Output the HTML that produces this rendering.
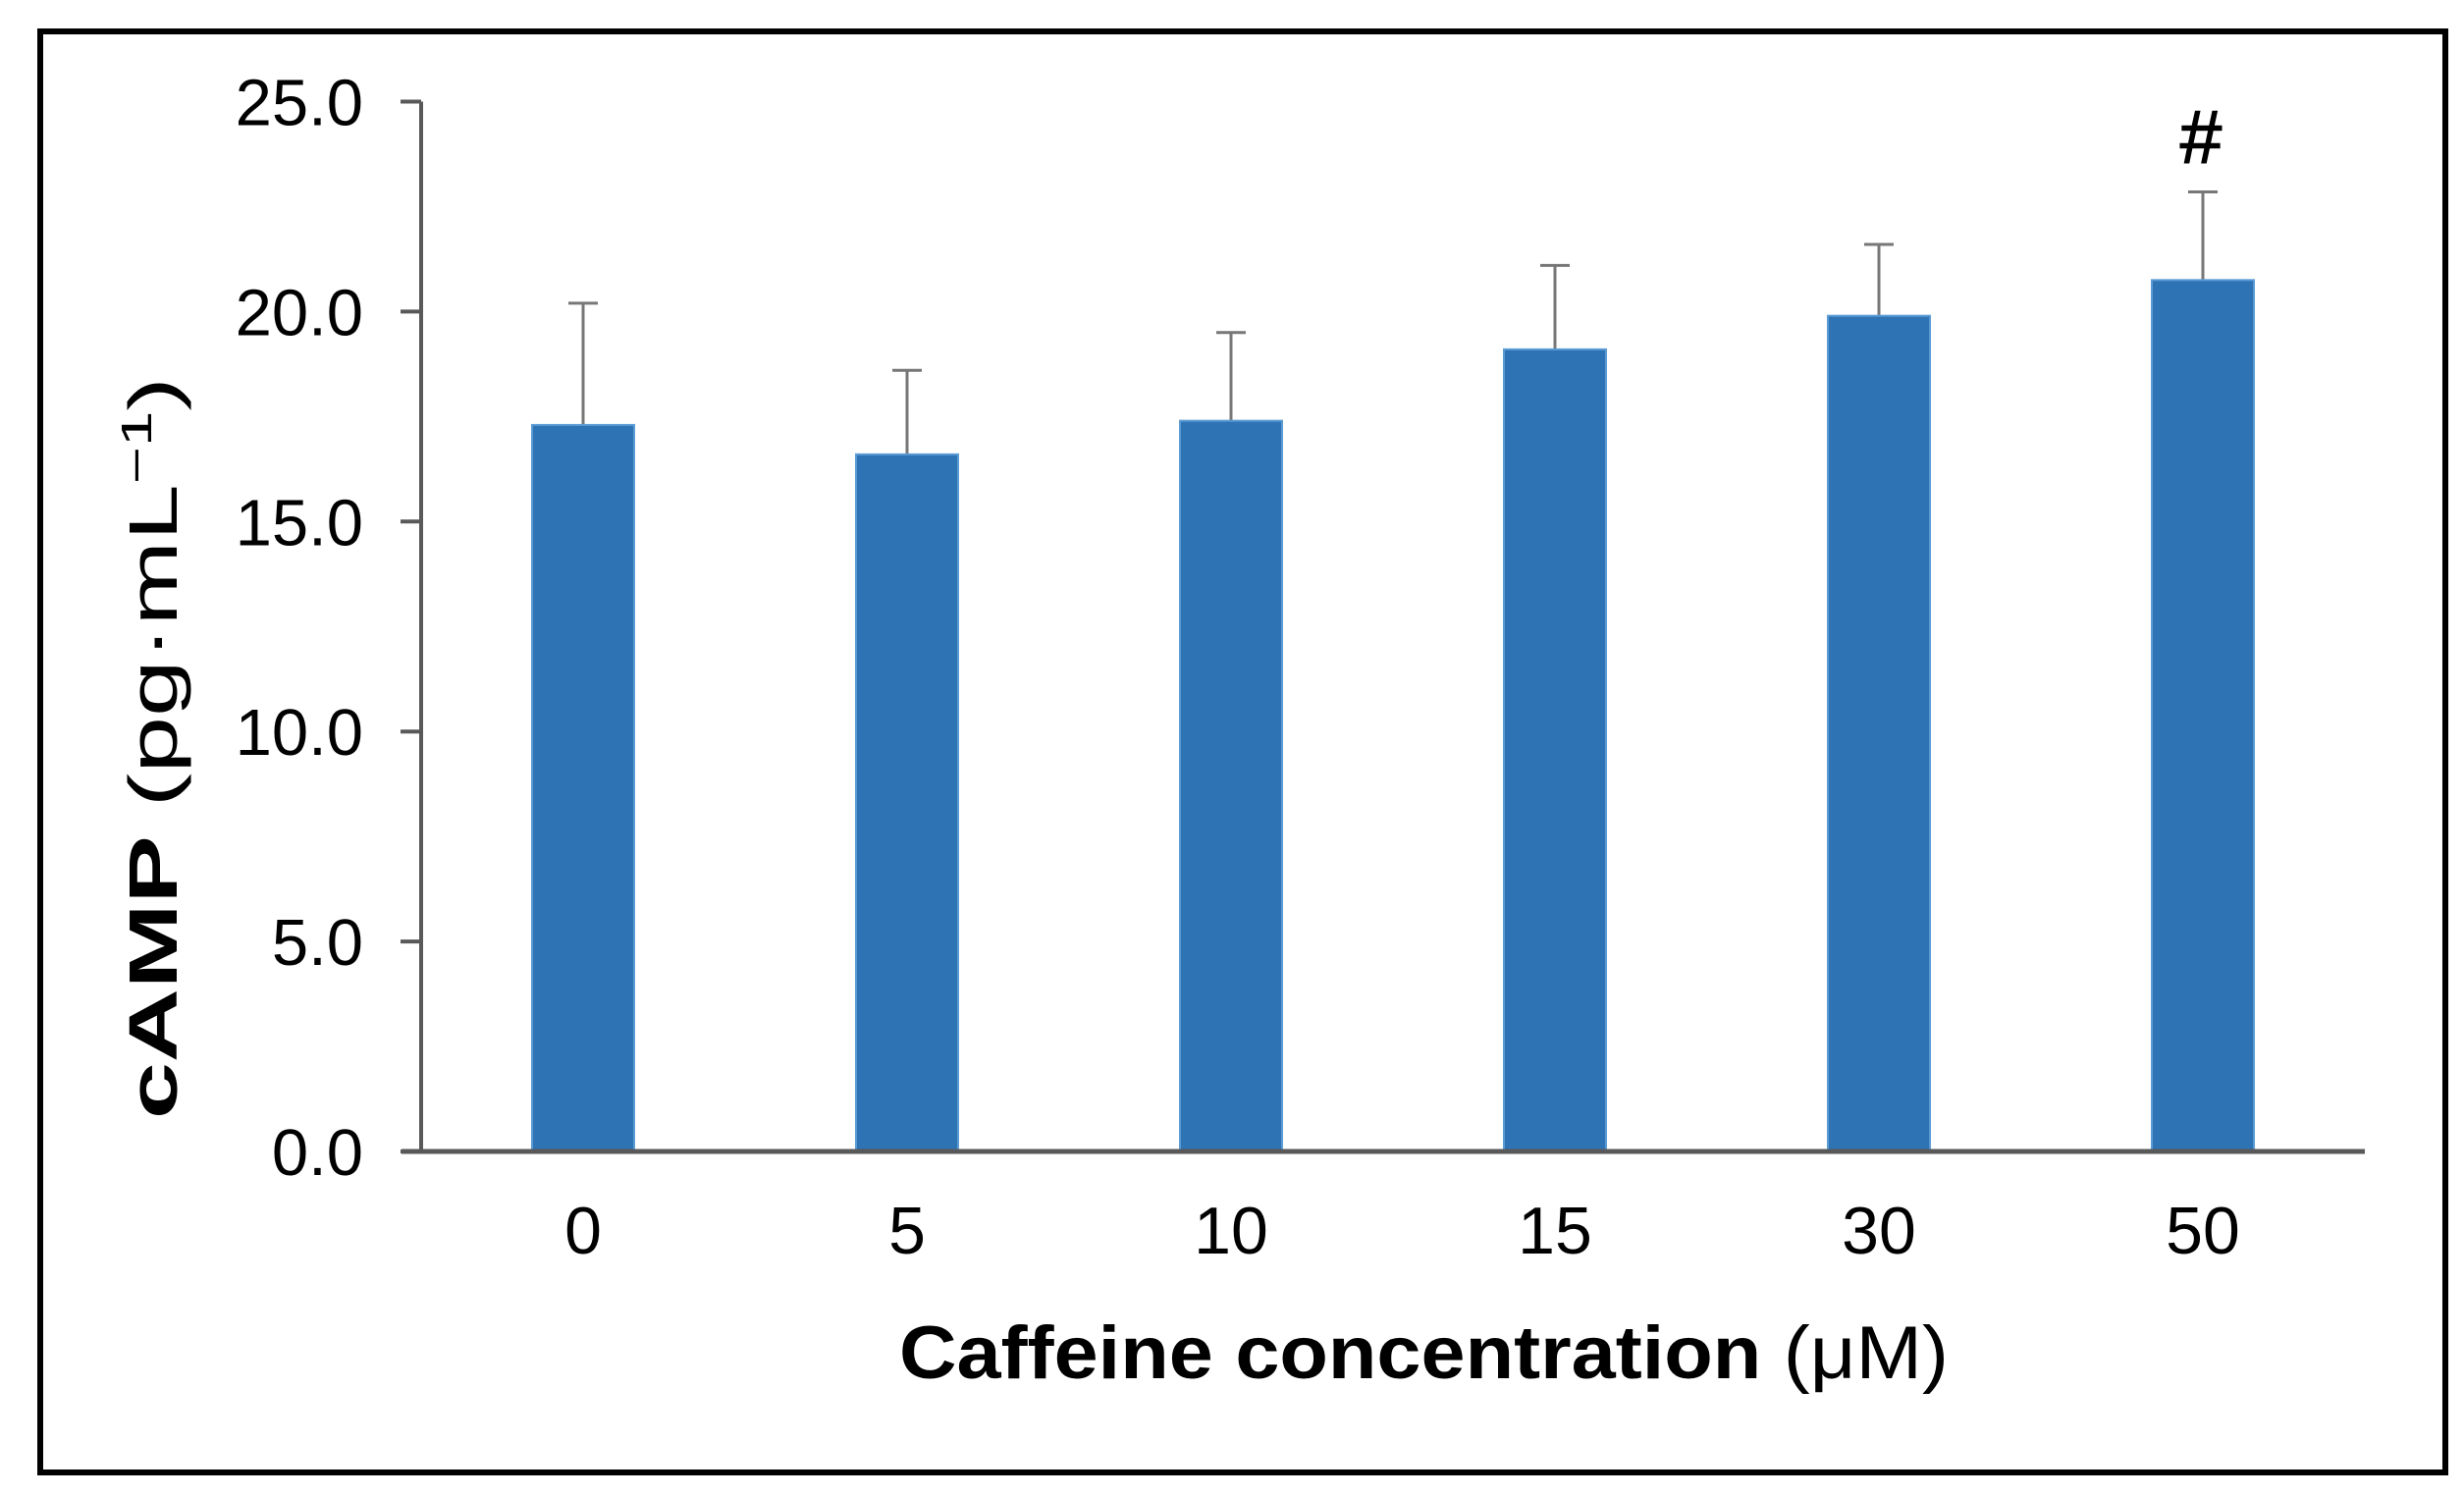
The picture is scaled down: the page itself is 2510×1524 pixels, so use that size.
<!DOCTYPE html>
<html><head><meta charset="utf-8"><style>
html,body{margin:0;padding:0;background:#fff;}
svg{display:block;font-family:"Liberation Sans",Arial,sans-serif;}
</style></head><body>
<svg id="chart" width="2510" height="1524" viewBox="0 0 2510 1524">
<rect x="41" y="32" width="2450" height="1468" fill="none" stroke="#000" stroke-width="6"/>
<g id="plot"></g>
<text x="0" y="0" transform="translate(180,1140) rotate(-90)" font-size="70" textLength="756" lengthAdjust="spacingAndGlyphs" fill="#000"><tspan font-weight="bold">cAMP</tspan> (pg·mL<tspan font-size="44" dy="-26">−1</tspan><tspan dy="26">)</tspan></text>
<text x="916" y="1404" font-size="76" textLength="1069" lengthAdjust="spacingAndGlyphs" fill="#000"><tspan font-weight="bold">Caffeine concentration</tspan> (μM)</text>
</svg>
<script>
const categories = ["0","5","10","15","30","50"];
const values = [17.3, 16.6, 17.4, 19.1, 19.9, 20.75];
const errors = [2.9, 2.0, 2.1, 2.0, 1.7, 2.1];
const yTicks = [0, 5, 10, 15, 20, 25];
const yTickLabels = ["0.0","5.0","10.0","15.0","20.0","25.0"];
const markers = ["","","","","","#"];

const NS = "http://www.w3.org/2000/svg";
const g = document.getElementById("plot");
const x0 = 429, x1 = 2409, yBase = 1173, yTop = 103.5, yMax = 25;
const y = v => yBase - (v / yMax) * (yBase - yTop);
const step = (x1 - x0) / categories.length;
const xc = i => x0 + step * (i + 0.5);
const barW = 104;
function mk(tag, attrs) { const e = document.createElementNS(NS, tag); for (const k in attrs) e.setAttribute(k, attrs[k]); g.appendChild(e); return e; }

yTicks.forEach((t, i) => {
  const tk = mk("line", {x1: 408, x2: x0, y1: y(t), y2: y(t), stroke: "#595959", "stroke-width": 4});
  
  
  const lb = mk("text", {x: 370, y: y(t) + 24, "font-size": 67, "text-anchor": "end", fill: "#000"});
  lb.textContent = yTickLabels[i];
  
  
});

categories.forEach((c, i) => {
  const cx = xc(i);
  const eTop = y(values[i] + errors[i]);
  const el = mk("line", {x1: cx, x2: cx, y1: eTop, y2: y(values[i]), stroke: "#777", "stroke-width": 3});
  
  
  const cap = mk("line", {x1: cx - 15, x2: cx + 15, y1: eTop, y2: eTop, stroke: "#777", "stroke-width": 3});
  
  
  const b = mk("rect", {x: cx - barW / 2, y: y(values[i]), width: barW, height: yBase - y(values[i]), fill: "#2e74b5", stroke: "#5b9bd5", "stroke-width": 2});
  
  
  const xl = mk("text", {x: cx, y: 1277, "font-size": 68, "text-anchor": "middle", fill: "#000"});
  xl.textContent = c;
  
  
  if (markers[i]) {
    const m = mk("text", {x: cx - 2, y: eTop - 30, "font-size": 76, "text-anchor": "middle", fill: "#000", stroke: "#000", "stroke-width": 1.5});
    m.textContent = markers[i];
    
    
  }
});

const ya = mk("line", {x1: x0, x2: x0, y1: yTop, y2: yBase, stroke: "#595959", "stroke-width": 4});


const xa = mk("line", {x1: x0 - 20, x2: x1, y1: yBase, y2: yBase, stroke: "#595959", "stroke-width": 5});


</script>
</body></html>
